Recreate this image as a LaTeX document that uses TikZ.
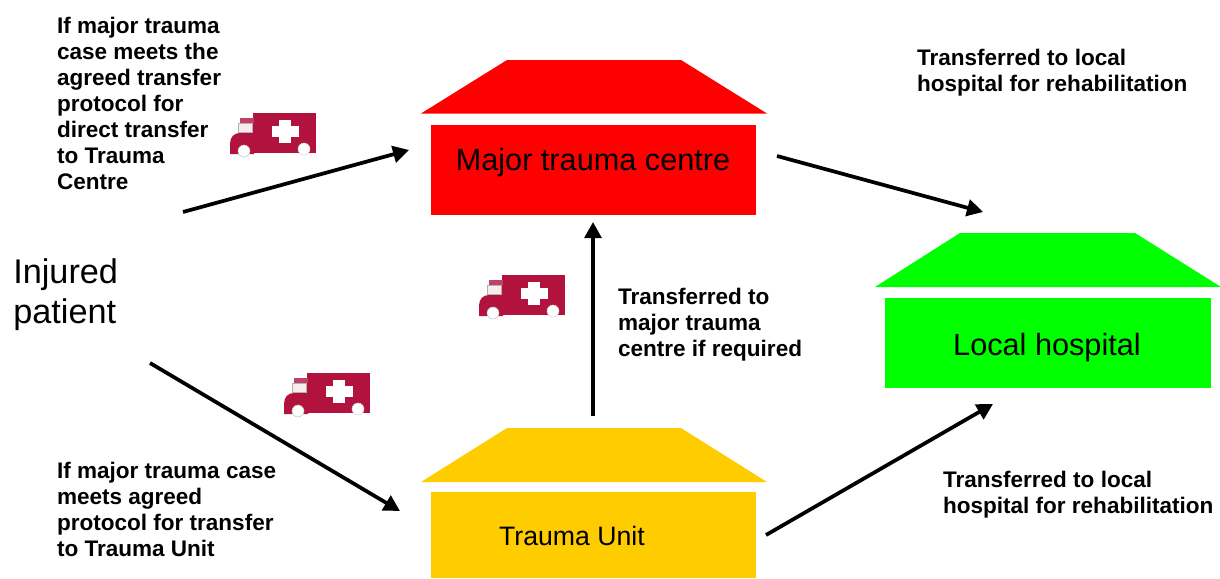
\documentclass[tikz,border=0pt]{standalone}
\usepackage{fontspec}
\setmainfont{Liberation Sans}
\usetikzlibrary{arrows.meta}
\definecolor{ambred}{HTML}{B2123E}
\definecolor{amber}{HTML}{FFCC00}
\definecolor{brightgreen}{HTML}{00FF00}
\tikzset{
  x=0.75pt,y=-0.75pt,
  bigtext/.style={font=\fontsize{23}{25}\selectfont,text=black},
  note/.style={font=\fontsize{16.9}{19.5}\selectfont\bfseries,align=left,anchor=north west,inner sep=0,outer sep=0,text=black},
  flow/.style={draw=black,line width=2.8pt,-{Triangle[length=12pt,width=12.5pt]}},
  ambulance/.pic={
    \fill[ambred] (23,13) rectangle (86,53);
    \fill[ambred] (0,54) -- (0,44) .. controls (0,37) and (4,33) .. (10,33) -- (24,33) -- (24,54) -- cycle;
    \fill[ambred!80!white] (10,18) rectangle (24,23);
    \fill[white!92!ambred,draw=gray!60,line width=0.4pt] (8,23) rectangle (22,32);
    \fill[white] (49,20) rectangle (61,43);
    \fill[white] (42,26) rectangle (69,37);
    \fill[white,draw=gray!50,line width=0.4pt] (14,51) circle[radius=6];
    \fill[white,draw=gray!35,line width=0.4pt] (74,49) circle[radius=6];
  }
}
\begin{document}
\begin{tikzpicture}
\useasboundingbox (0,0) rectangle (1220,578);
% major trauma centre
\fill[red] (421,113.5) -- (507,60) -- (681,60) -- (767,113.5) -- cycle;
\path[fill=red] (431,125) rectangle (756,215);
\node[bigtext] (mtc) at (593,163) {Major trauma centre};
\coordinate (mtcin) at (409,150);
\coordinate (mtcout) at (777,156);
\coordinate (mtcbottom) at (593,222);
% local hospital
\fill[brightgreen] (875,287) -- (960,233) -- (1135,233) -- (1221,287) -- cycle;
\path[fill=brightgreen] (885,298) rectangle (1211,388);
\node[bigtext] (lh) at (1047,348) {Local hospital};
\coordinate (lhtop) at (983,212);
\coordinate (lhbottom) at (993,404);
% trauma unit
\fill[amber] (421,482) -- (507,428) -- (681,428) -- (767,482) -- cycle;
\path[fill=amber] (431,492) rectangle (756,578);
\node[font=\fontsize{20}{22}\selectfont] (tu) at (572,536) {Trauma Unit};
\coordinate (tuin) at (400,511);
\coordinate (tuout) at (766,535);
\coordinate (tutop) at (593,416);
% injured patient
\node[font=\fontsize{25.7}{30}\selectfont,align=left,anchor=north west,inner sep=0] (ip) at (13,258) {Injured\\patient};
\coordinate (ipup) at (183,212);
\coordinate (ipdown) at (150,363);
% arrows
\draw[flow] (ipup) -- (mtcin);
\draw[flow] (ipdown) -- (tuin);
\draw[flow] (tutop) -- (mtcbottom);
\draw[flow] (mtcout) -- (lhtop);
\draw[flow] (tuout) -- (lhbottom);
% notes
\node[note] (n1) at (57,17) {If major trauma\\case meets the\\agreed transfer\\protocol for\\direct transfer\\to Trauma\\Centre};
\node[note] (n2) at (917,49) {Transferred to local\\hospital for rehabilitation};
\node[note] (n3) at (618,288) {Transferred to\\major trauma\\centre if required};
\node[note] (n4) at (57,462) {If major trauma case\\meets agreed\\protocol for transfer\\to Trauma Unit};
\node[note] (n5) at (943,471) {Transferred to local\\hospital for rehabilitation};
% ambulances
\pic at (230,100) {ambulance};
\pic at (479,262) {ambulance};
\pic at (284,360) {ambulance};
\end{tikzpicture}
\end{document}
